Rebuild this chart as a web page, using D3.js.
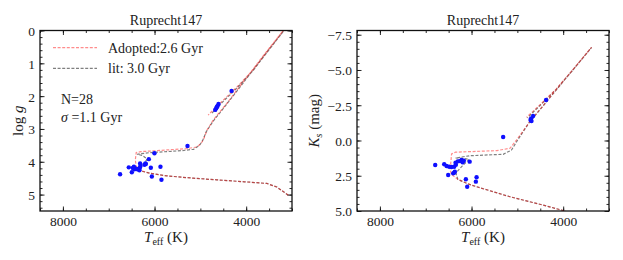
<!DOCTYPE html>
<html>
<head>
<meta charset="utf-8">
<script src="https://cdn.jsdelivr.net/npm/d3@7"></script>
<style>
  body { margin: 0; background: #fff; }
  text { font-family: "Liberation Serif", "Times New Roman", serif; fill: #222; }
</style>
</head>
<body>
<div class="chart"></div>
<script>
// figure size
let svgW = 623;
let svgH = 260;

// tick values
let teffTicks = [8000, 6000, 4000];
let teffMinor = d3.range(3000, 8501, 500);
let loggTicks = [0, 1, 2, 3, 4, 5];
let loggMinor = d3.range(0, 5.51, 0.2);
let ksTicks = [-7.5, -5.0, -2.5, 0.0, 2.5, 5.0];
let ksMinor = d3.range(-7.5, 5.01, 0.5);

// isochrones: [Teff, logg]
let adoptedLogg = [[3080,5.02],[3330,4.77],[3550,4.66],[4040,4.61],[4640,4.55],[5160,4.50],[5730,4.43],[6100,4.35],
  [6354,4.25],[6400,4.12],[6420,3.95],[6400,3.72],[6300,3.69],[6040,3.67],[5730,3.64],[5300,3.60],[5080,3.55],
  [4990,3.45],[4930,3.32],[4860,3.05],[4720,2.73],[4400,2.18],[4000,1.45],[3600,0.72],[3190,0.0],[3000,-0.35],
  [3850,1.20],[4200,1.72],[4500,2.12],[4790,2.52],[4830,2.58]];
let litLogg = [[3080,5.02],[3330,4.77],[3550,4.66],[4040,4.61],[4640,4.55],[5160,4.50],[5730,4.43],[6100,4.35],
  [6354,4.26],[6250,4.10],[6160,3.92],[6260,3.81],[6380,3.77],[6100,3.72],[5730,3.69],[5400,3.66],[5150,3.62],
  [5020,3.50],[4950,3.35],[4870,3.08],[4730,2.78],[4400,2.20],[4000,1.48],[3600,0.75],[3190,0.03],[3000,-0.32],
  [3850,1.22],[4200,1.75],[4500,2.16],[4770,2.55]];

// isochrones: [Teff, Ks]
let adoptedKs = [[3700,5.3],[4040,4.93],[4440,4.58],[5160,3.99],[5890,3.28],[6100,3.05],[6300,2.75],[6440,2.40],
  [6470,2.05],[6450,1.50],[6436,0.95],[6350,0.83],[6040,0.79],[5450,0.72],[5160,0.55],[5020,-0.03],[4730,-1.33],
  [4380,-2.70],[3900,-4.60],[3380,-6.61],[3800,-4.97],[4150,-3.66],[4500,-2.55],[4800,-1.64]];
let litKs = [[3700,5.3],[4040,4.93],[4440,4.58],[5160,3.99],[5890,3.28],[6100,3.05],[6300,2.75],[6342,2.30],
  [6200,1.80],[6052,1.33],[6200,1.27],[6349,1.24],[6041,1.08],[5310,0.98],[5128,0.68],[5000,0.0],[4740,-1.28],
  [4380,-2.68],[3900,-4.57],[3380,-6.60],[3800,-4.95],[4150,-3.63],[4500,-2.50],[4780,-1.60]];

// cluster stars
let starTeffL = [5281,6002,6125,6315,6308,6190,6220,6562,6474,6440,6496,6374,6330,6081,5871,6059,5849,6752,
  4319,4604,4625,4654,4676,6320,6400,6200,6450,4640];
let starLogg = [3.52,3.74,3.92,4.05,4.13,4.07,4.09,4.17,4.19,4.23,4.32,4.23,4.26,4.18,4.15,4.45,4.55,4.38,
  1.84,2.24,2.30,2.37,2.42,4.18,4.21,4.05,4.15,2.33];
let starTeffR = [5310,6793,6597,6545,6488,6436,6379,6342,6349,6255,6218,6168,6196,6041,6510,6401,6364,6124,
  6095,5890,5906,4373,4656,4700,4713,4692,6380,6300];
let starKs = [-0.25,1.74,1.69,1.81,1.86,1.88,1.86,1.72,1.58,1.46,1.38,1.43,1.55,1.50,2.45,2.33,2.21,2.75,
  3.28,2.61,2.92,-2.87,-1.74,-1.57,-1.45,-1.38,2.28,1.48];

let svg = d3.select(".chart")
  .append("svg")
  .attr("width", svgW)
  .attr("height", svgH);

function drawPanel(p) {
  let x = d3.scaleLinear().domain([8500, 3000]).range([p.left, p.right]);
  let y = d3.scaleLinear().domain(p.yDomain).range([p.top, p.bottom]);

  let g = svg.append("g");

  g.append("clipPath").attr("id", p.id)
    .append("rect")
    .attr("x", p.left).attr("y", p.top)
    .attr("width", p.right - p.left).attr("height", p.bottom - p.top);

  // axes, ticks point inward on every side
  let addAxis = function(gen, tx, ty, vals, size, labels) {
    let a = g.append("g")
      .attr("transform", `translate(${tx}, ${ty})`)
      .call(gen.tickValues(vals).tickSize(-size).tickPadding(5)
        .tickFormat(labels ? labels : ""));
    a.select(".domain").remove();
    a.selectAll("line").attr("stroke", "#111").attr("stroke-width", 0.9);
    a.selectAll("text").style("font-size", "13.5px").attr("fill", "#222");
    return a;
  };
  addAxis(d3.axisBottom(x), 0, p.bottom, teffTicks, 4.5, d3.format("d"));
  addAxis(d3.axisBottom(x), 0, p.bottom, teffMinor, 2.5, null);
  addAxis(d3.axisTop(x), 0, p.top, teffTicks, 4.5, null);
  addAxis(d3.axisTop(x), 0, p.top, teffMinor, 2.5, null);
  addAxis(d3.axisLeft(y), p.left, 0, p.yTicks, 4.5, p.yFormat).selectAll("text").attr("dy", "0.36em");
  addAxis(d3.axisLeft(y), p.left, 0, p.yMinor, 2.5, null);
  addAxis(d3.axisRight(y), p.right, 0, p.yTicks, 4.5, null);
  addAxis(d3.axisRight(y), p.right, 0, p.yMinor, 2.5, null);

  let line = d3.line().x(d => x(d[0])).y(d => y(d[1]));
  let plot = g.append("g").attr("clip-path", `url(#${p.id})`);

  plot.append("path")
    .attr("d", line(p.lit))
    .attr("fill", "none")
    .attr("stroke", "#000")
    .attr("stroke-opacity", 0.5)
    .attr("stroke-width", 1.2)
    .attr("stroke-dasharray", "3,1.6");

  plot.append("path")
    .attr("d", line(p.adopted))
    .attr("fill", "none")
    .attr("stroke", "#ff0000")
    .attr("stroke-opacity", 0.45)
    .attr("stroke-width", 1.2)
    .attr("stroke-dasharray", "3,1.6");

  plot.selectAll("circle")
    .data(p.starX.map((t, i) => [t, p.starY[i]]))
    .enter()
    .append("circle")
    .attr("cx", d => x(d[0]))
    .attr("cy", d => y(d[1]))
    .attr("r", 2.2)
    .attr("fill", "#0f0fff");

  // frame
  g.append("rect")
    .attr("x", p.left).attr("y", p.top)
    .attr("width", p.right - p.left).attr("height", p.bottom - p.top)
    .attr("fill", "none").attr("stroke", "#111").attr("stroke-width", 1.3);

  // title
  g.append("text")
    .attr("x", (p.left + p.right) / 2).attr("y", 25)
    .attr("text-anchor", "middle")
    .style("font-size", "14px")
    .text("Ruprecht147");

  // x label
  let xl = g.append("text")
    .attr("x", (p.left + p.right) / 2).attr("y", 242)
    .attr("text-anchor", "middle")
    .style("font-size", "15px");
  xl.append("tspan").style("font-style", "italic").text("T");
  xl.append("tspan").attr("dy", 3).style("font-size", "10px").text("eff");
  xl.append("tspan").attr("dy", -3).text(" (K)");

  // y label
  let yl = g.append("text")
    .attr("transform", `translate(${p.yLabelX}, ${(p.top + p.bottom) / 2}) rotate(-90)`)
    .attr("text-anchor", "middle")
    .style("font-size", "15px");
  p.yLabel(yl);

  return { x: x, y: y, g: g };
}

let left = drawPanel({
  id: "clipL", left: 40, right: 292, top: 30.5, bottom: 211,
  yDomain: [0, 5.5], yTicks: loggTicks, yMinor: loggMinor, yFormat: d3.format("d"),
  adopted: adoptedLogg, lit: litLogg, starX: starTeffL, starY: starLogg,
  yLabelX: 23,
  yLabel: function(t) {
    t.append("tspan").text("log ");
    t.append("tspan").style("font-style", "italic").text("g");
  }
});

let right = drawPanel({
  id: "clipR", left: 357, right: 609, top: 30.5, bottom: 211,
  yDomain: [-7.8, 5.0], yTicks: ksTicks, yMinor: ksMinor, yFormat: d3.format(".1f"),
  adopted: adoptedKs, lit: litKs, starX: starTeffR, starY: starKs,
  yLabelX: 319,
  yLabel: function(t) {
    t.append("tspan").style("font-style", "italic").text("K");
    t.append("tspan").attr("dy", 3).style("font-size", "10px").style("font-style", "italic").text("s");
    t.append("tspan").attr("dy", -3).text(" (mag)");
  }
});

// legend in the left panel
let legend = left.g.append("g");
let legendItems = [
  { label: "Adopted:2.6 Gyr", color: "#ff0000", op: 0.45, y: 47.7 },
  { label: "lit: 3.0 Gyr", color: "#000", op: 0.5, y: 68.3 }
];
legendItems.forEach(function(d) {
  legend.append("line")
    .attr("x1", 53).attr("x2", 97).attr("y1", d.y).attr("y2", d.y)
    .attr("stroke", d.color).attr("stroke-opacity", d.op)
    .attr("stroke-width", 1.2).attr("stroke-dasharray", "3,1.6");
  legend.append("text")
    .attr("x", 108).attr("y", d.y).attr("dy", "0.35em")
    .style("font-size", "14px")
    .text(d.label);
});

left.g.append("text")
  .attr("x", 61).attr("y", 98.7).attr("dy", "0.35em")
  .style("font-size", "14px")
  .text("N=28");
let sig = left.g.append("text")
  .attr("x", 61).attr("y", 116.7).attr("dy", "0.35em")
  .style("font-size", "14px");
sig.append("tspan").style("font-style", "italic").text("σ");
sig.append("tspan").text(" =1.1 Gyr");
</script>
</body>
</html>
